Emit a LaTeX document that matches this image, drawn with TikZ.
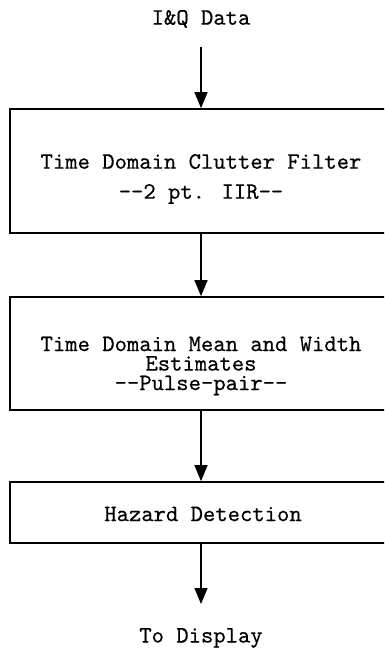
\documentclass[tikz,border=0pt]{standalone}
\usepackage{fontspec}
\newfontfamily\typewr{lmmono10-regular}[Extension=.otf, FakeBold=0.4]
\usetikzlibrary{arrows.meta}

\tikzset{
  stage/.style={draw, line width=1.7pt, rectangle, minimum width=382pt, inner sep=0pt},
  lbl/.style={font=\typewr\fontsize{23.5}{19.5}\selectfont, inner sep=0pt, anchor=center, align=center},
  flow/.style={line width=1.4pt, -{Triangle[length=16pt,width=13pt]}}
}

\begin{document}
\begin{tikzpicture}[x=1pt, y=-1pt]
  \useasboundingbox (0,0) rectangle (384,652);
  \clip (0,0) rectangle (384,652);

  % input and output labels
  \node[lbl] (in)  at (201,19)  {I\&Q Data};
  \node[lbl] (out) at (201,638) {To Display};
  \coordinate (inend)  at (201,47);
  \coordinate (outend) at (201,604);

  % processing stages
  \node[stage, minimum height=124pt] (filter) at (201,171)   {};
  \node[stage, minimum height=113pt] (mom)    at (201,353.5) {};
  \node[stage, minimum height=61pt]  (haz)    at (201,512.5) {};

  % stage texts
  \node[lbl, font=\typewr\fontsize{23.5}{30}\selectfont] (ftxt) at (201,179)
    {Time Domain Clutter Filter\\-{}-2 pt. IIR-{}-};
  \node[lbl] (mtxt) at (201,366)
    {Time Domain Mean and Width\\Estimates\\-{}-Pulse-pair-{}-};
  \node[lbl] (htxt) at (203,514) {Hazard Detection};

  % connectors
  \draw[flow] (inend) -- (filter.north -| inend);
  \draw[flow] (filter.south -| inend) -- (mom.north -| inend);
  \draw[flow] (mom.south -| inend) -- (haz.north -| inend);
  \draw[flow] (haz.south -| inend) -- (outend);
\end{tikzpicture}
\end{document}
